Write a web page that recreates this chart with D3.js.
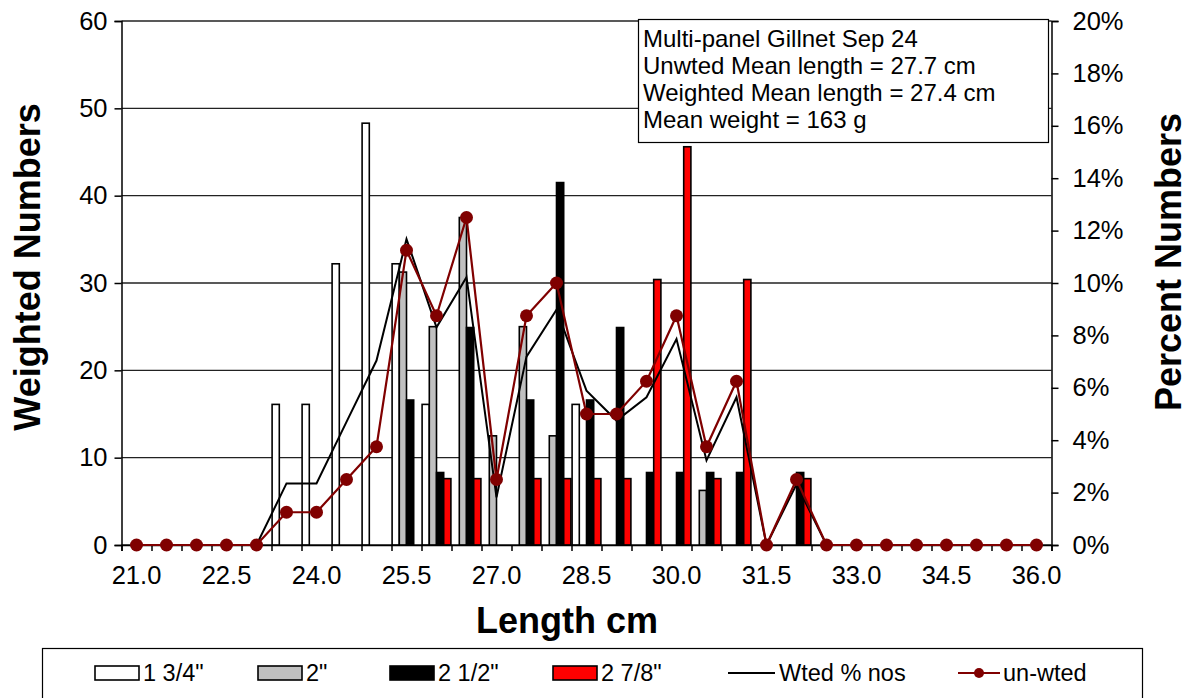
<!DOCTYPE html>
<html><head><meta charset="utf-8">
<script src="https://cdn.jsdelivr.net/npm/d3@7"></script>
<style>
body{margin:0;background:#fff}
svg{display:block}
text{font-family:"Liberation Sans",Arial,sans-serif;fill:#000}
</style>
</head><body>
<svg id="c" width="1190" height="698"></svg>
<script>
// ---- data ----
const lengths = ["21.0","21.5","22.0","22.5","23.0","23.5","24.0","24.5","25.0","25.5","26.0","26.5","27.0","27.5","28.0","28.5","29.0","29.5","30.0","30.5","31.0","31.5","32.0","32.5","33.0","33.5","34.0","34.5","35.0","35.5","36.0"];
const xTickLabels = ["21.0","22.5","24.0","25.5","27.0","28.5","30.0","31.5","33.0","34.5","36.0"];
const leftTicks = [0,10,20,30,40,50,60];
const rightTicks = [0,2,4,6,8,10,12,14,16,18,20];
const seriesNames = ["1 3/4\"","2\"","2 1/2\"","2 7/8\""];
const mesh134 = [0,0,0,0,0,16.1,16.1,32.2,48.3,32.2,16.1,0,0,0,0,16.1,0,0,0,0,0,0,0,0,0,0,0,0,0,0,0];
const mesh2   = [0,0,0,0,0,0,0,0,0,31.25,25.0,37.5,12.5,25.0,12.5,0,0,0,0,6.25,0,0,0,0,0,0,0,0,0,0,0];
const mesh212 = [0,0,0,0,0,0,0,0,0,16.6,8.3,24.9,0,16.6,41.5,16.6,24.9,8.3,8.3,8.3,8.3,0,8.3,0,0,0,0,0,0,0,0];
const mesh278 = [0,0,0,0,0,0,0,0,0,0,7.6,7.6,0,7.6,7.6,7.6,7.6,30.4,45.6,7.6,30.4,0,7.6,0,0,0,0,0,0,0,0];
const wtedPct  = [0,0,0,0,0,2.35,2.35,4.70,7.04,11.68,8.31,10.22,1.82,7.19,8.98,5.89,4.75,5.64,7.86,3.23,5.64,0,2.32,0,0,0,0,0,0,0,0];
const unwtedPct= [0,0,0,0,0,1.25,1.25,2.5,3.75,11.25,8.75,12.5,2.5,8.75,10,5,5,6.25,8.75,3.75,6.25,0,2.5,0,0,0,0,0,0,0,0];
const infoLines = ["Multi-panel Gillnet Sep 24","Unwted Mean length = 27.7 cm","Weighted Mean length = 27.4 cm","Mean weight = 163 g"];

const barSeries = [mesh134, mesh2, mesh212, mesh278];
const barFills = ["#ffffff","#c0c0c0","#000000","#ff0000"];

// ---- layout ----
const svg = d3.select("#c");
const L = 121.5, R = 1051.5, T = 21, B = 545;
const x = d3.scaleBand().domain(lengths).range([L, R]).padding(0);
const x1 = d3.scaleBand().domain(seriesNames).range([0.6, x.bandwidth() - 0.6]).padding(0);
const yL = d3.scaleLinear().domain([0, 60]).range([B, T]);
const yR = d3.scaleLinear().domain([0, 20]).range([B, T]);

// gridlines
svg.append("g").selectAll("line").data(leftTicks).join("line")
  .attr("x1", L).attr("x2", R)
  .attr("y1", d => yL(d)).attr("y2", d => yL(d))
  .attr("stroke", "#222").attr("stroke-width", 1.3);

// bars
barSeries.forEach((vals, si) => {
  svg.append("g").selectAll("rect")
    .data(vals.map((v, i) => ({v, c: lengths[i]})).filter(d => d.v > 0))
    .join("rect")
    .attr("x", d => x(d.c) + x1(seriesNames[si]))
    .attr("width", x1.bandwidth())
    .attr("y", d => yL(d.v))
    .attr("height", d => B - yL(d.v))
    .attr("fill", barFills[si])
    .attr("stroke", "#000").attr("stroke-width", 1.6);
});

// axes
const tickFont = 25.5;
const gL = svg.append("g").attr("transform", `translate(${L},0)`)
  .call(d3.axisLeft(yL).tickValues(leftTicks).tickSize(7).tickPadding(7).tickFormat(d3.format("d")));
gL.selectAll("text").attr("font-size", tickFont).attr("font-family", "Liberation Sans, Arial, sans-serif");
const gR = svg.append("g").attr("transform", `translate(${R},0)`)
  .call(d3.axisRight(yR).tickValues(rightTicks).tickSize(7).tickPadding(14).tickFormat(d => d + "%"));
gR.selectAll("text").attr("font-size", tickFont).attr("font-family", "Liberation Sans, Arial, sans-serif");
const xLin = d3.scaleLinear().domain([0, lengths.length]).range([L, R]);
const gX = svg.append("g").attr("transform", `translate(0,${B})`)
  .call(d3.axisBottom(xLin).tickValues(d3.range(lengths.length + 1)).tickSize(6).tickFormat(""));
const gXL = svg.append("g").attr("transform", `translate(0,${B})`)
  .call(d3.axisBottom(x).tickValues(xTickLabels).tickSize(0).tickPadding(21));
gXL.select(".domain").remove();
gXL.selectAll("text").attr("font-size", tickFont).attr("font-family", "Liberation Sans, Arial, sans-serif");
[gL, gR, gX].forEach(g => g.selectAll("path,line").attr("stroke", "#000").attr("stroke-width", 1.5));

// lines
const cx = c => x(c) + x.bandwidth() / 2;
const lineW = d3.line().x((d, i) => cx(lengths[i])).y(d => yR(d));
svg.append("path").datum(wtedPct).attr("d", lineW)
  .attr("fill", "none").attr("stroke", "#000").attr("stroke-width", 2);
svg.append("path").datum(unwtedPct).attr("d", lineW)
  .attr("fill", "none").attr("stroke", "#800000").attr("stroke-width", 2.2);
svg.append("g").selectAll("circle").data(unwtedPct).join("circle")
  .attr("cx", (d, i) => cx(lengths[i])).attr("cy", d => yR(d)).attr("r", 6.5)
  .attr("fill", "#800000");

// axis titles
svg.append("text").attr("transform", "translate(40,267) rotate(-90)")
  .attr("text-anchor", "middle").attr("font-size", 36).attr("font-weight", "bold").text("Weighted Numbers");
svg.append("text").attr("transform", "translate(1181,262) rotate(-90)")
  .attr("text-anchor", "middle").attr("font-size", 36).attr("font-weight", "bold").text("Percent Numbers");
svg.append("text").attr("x", 567).attr("y", 633)
  .attr("text-anchor", "middle").attr("font-size", 36).attr("font-weight", "bold").text("Length cm");

// info box
svg.append("rect").attr("x", 638.5).attr("y", 19.5).attr("width", 410).attr("height", 123)
  .attr("fill", "#fff").attr("stroke", "#000").attr("stroke-width", 1.2);
svg.append("g").selectAll("text").data(infoLines).join("text")
  .attr("x", 643).attr("y", (d, i) => 46.5 + i * 27.3)
  .attr("font-size", 24).text(d => d);

// legend
svg.append("rect").attr("x", 42.5).attr("y", 648.5).attr("width", 1100).attr("height", 70)
  .attr("fill", "#fff").attr("stroke", "#000").attr("stroke-width", 1.2);
const ly = 673;
const swX = [95, 258, 390, 553];
barSeries.forEach((s, i) => {
  svg.append("rect").attr("x", swX[i]).attr("y", ly - 7).attr("width", 44).attr("height", 14)
    .attr("fill", barFills[i]).attr("stroke", "#000").attr("stroke-width", 1.6);
  svg.append("text").attr("x", swX[i] + 48).attr("y", ly + 8).attr("font-size", 23.5).text(seriesNames[i]);
});
svg.append("line").attr("x1", 728).attr("x2", 775).attr("y1", ly).attr("y2", ly)
  .attr("stroke", "#000").attr("stroke-width", 2);
svg.append("text").attr("x", 779).attr("y", ly + 8).attr("font-size", 23.5).text("Wted % nos");
svg.append("line").attr("x1", 958).attr("x2", 1000).attr("y1", ly).attr("y2", ly)
  .attr("stroke", "#800000").attr("stroke-width", 2.2);
svg.append("circle").attr("cx", 979).attr("cy", ly).attr("r", 5).attr("fill", "#800000");
svg.append("text").attr("x", 1003).attr("y", ly + 8).attr("font-size", 23.5).text("un-wted");
</script>
</body></html>
